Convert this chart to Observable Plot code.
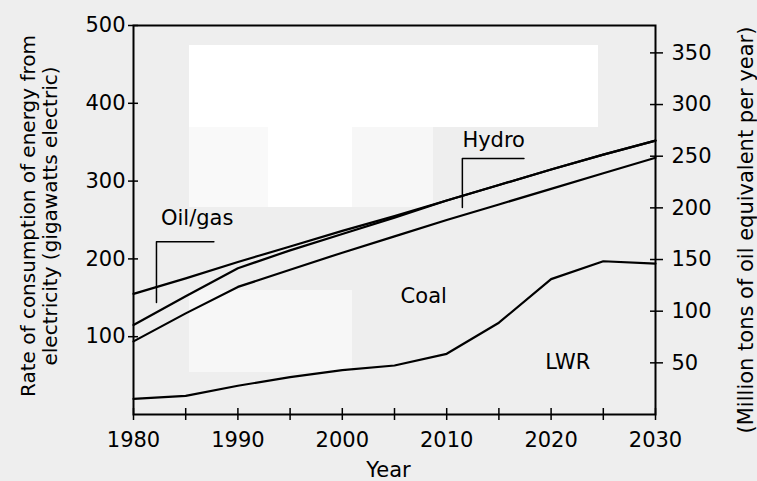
<!DOCTYPE html>
<html><head><meta charset="utf-8">
<script src="https://cdn.jsdelivr.net/npm/d3@7"></script>
<script src="https://cdn.jsdelivr.net/npm/@observablehq/plot@0.6"></script>
<style>
html,body{margin:0;padding:0;background:#eeeeee;}
#chart{width:757px;height:481px;position:relative;}
#chart svg{display:block;position:relative;}
.blk{position:absolute;}
</style></head><body><div id="chart">
<div class="blk" style="left:189px;top:45px;width:409px;height:82px;background:#ffffff"></div>
<div class="blk" style="left:189px;top:127px;width:79px;height:80px;background:#f9f9f9"></div>
<div class="blk" style="left:268px;top:127px;width:84px;height:80px;background:#ffffff"></div>
<div class="blk" style="left:352px;top:127px;width:81px;height:80px;background:#f7f7f7"></div>
<div class="blk" style="left:189px;top:290px;width:163px;height:82px;background:#f7f7f7"></div>
</div>
<script>
// Data
const years  = [1980,1985,1990,1995,2000,2005,2010,2015,2020,2025,2030];
const lwr    = [20,24,37,48,57,63,78,118,174,197,194];
const coal   = [94,130,164,186,208,229,250,270,290,310,330];
const hydro  = [115,152,188,211,232,253,275,295,315,334,352];
const oilgas = [155,175,196,216,236,255,275,295,315,334,352];

const leftTicks  = [100,200,300,400,500];
const rightTicks = [50,100,150,200,250,300,350];
const xTicksMinor = [1980,1985,1990,1995,2000,2005,2010,2015,2020,2025,2030];
const xTicksMajor = [1980,1990,2000,2010,2020,2030];
const k = 1.328; // GWe per Mtoe/yr (right-axis conversion)

const labelText = ["Oil/gas","Hydro","Coal","LWR"];
const labelYear = [1986.1,2014.5,2007.8,2021.6];
const labelVal  = [252,352,152,67];
const oilCallout   = [[1987.7,222],[1982.2,222],[1982.2,144]];
const hydroCallout = [[2017.4,329],[2011.5,329],[2011.5,266]];

const table = years.map((y,i)=>({year:y, lwr:lwr[i], coal:coal[i], hydro:hydro[i], oilgas:oilgas[i]}));
const labels = labelText.map((t,i)=>({t, x:labelYear[i], y:labelVal[i]}));
const F = "DejaVu Sans";

const series = ["lwr","coal","hydro","oilgas"];
const chart = Plot.plot({
  width:757, height:481,
  marginLeft:133, marginRight:102, marginTop:25, marginBottom:67,
  x:{domain:[1980,2030], axis:null},
  y:{domain:[0,500], axis:null},
  style:{fontFamily:F, fontSize:"21px", color:"black", background:"transparent", overflow:"visible"},
  marks:[
    Plot.frame({stroke:"black", strokeWidth:2}),
    // left axis
    Plot.axisY(leftTicks, {anchor:"left", tickSize:5, tickPadding:3, strokeWidth:1.5, label:null, fontSize:21, tickFormat:d=>String(d)}),
    Plot.axisY(leftTicks, {anchor:"left", tickSize:5, dx:5, strokeWidth:1.5, label:null, tickFormat:()=>""}),
    // right axis
    Plot.axisY(rightTicks.map(r=>r*k), {anchor:"right", tickSize:7, tickPadding:9, strokeWidth:1.5, label:null, fontSize:21, tickFormat:d=>String(Math.round(d/k))}),
    Plot.axisY(rightTicks.map(r=>r*k), {anchor:"right", tickSize:6, dx:-6, strokeWidth:1.5, label:null, tickFormat:()=>""}),
    // x axis
    Plot.axisX(xTicksMinor, {tickSize:6, strokeWidth:1.5, label:null, tickFormat:()=>""}),
    Plot.axisX(xTicksMinor, {tickSize:6, dy:-6, strokeWidth:1.5, label:null, tickFormat:()=>""}),
    Plot.axisX(xTicksMajor, {tickSize:0, tickPadding:18, label:null, fontSize:21, tickFormat:d=>String(d)}),
    // series lines
    ...series.map(s=>Plot.line(table, {x:"year", y:s, curve:"linear", stroke:"black", strokeWidth:2.2})),
    // callouts
    Plot.line(oilCallout, {x:d=>d[0], y:d=>d[1], stroke:"black", strokeWidth:1.5}),
    Plot.line(hydroCallout, {x:d=>d[0], y:d=>d[1], stroke:"black", strokeWidth:1.5}),
    Plot.text(labels, {x:"x", y:"y", text:"t", fontSize:21, fill:"black"}),
    // axis titles
    Plot.text(["Rate of consumption of energy from\nelectricity (gigawatts electric)"], {frameAnchor:"left", textAnchor:"middle", lineAnchor:"middle", dx:-95, dy:-4, rotate:-90, fontSize:20, lineHeight:1.1, fill:"black"}),
    Plot.text(["(Million tons of oil equivalent per year)"], {frameAnchor:"right", textAnchor:"middle", lineAnchor:"middle", dx:91, dy:10, rotate:-90, fontSize:21, fill:"black"}),
    Plot.text(["Year"], {frameAnchor:"bottom", lineAnchor:"middle", dx:-6, dy:56, fontSize:21, fill:"black"})
  ]
});
document.getElementById("chart").appendChild(chart);
</script>
</body></html>
